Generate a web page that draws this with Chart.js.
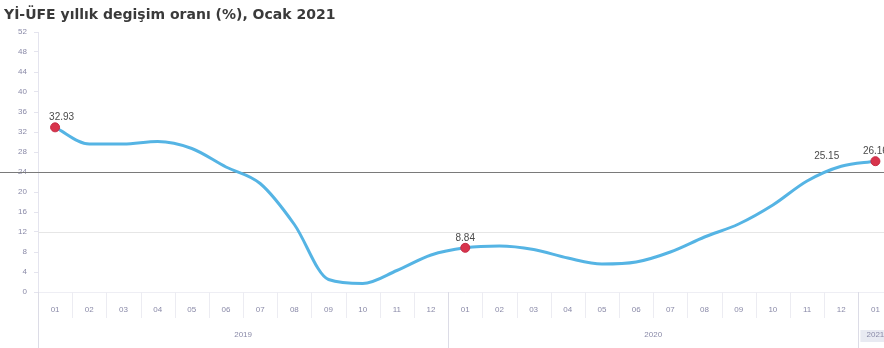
<!DOCTYPE html>
<html>
<head>
<meta charset="utf-8">
<script src="https://cdn.jsdelivr.net/npm/chart.js@4.4.1/dist/chart.umd.min.js"></script>
<style>
  body { margin: 0; background: #fff; overflow: hidden; }
  #wrap { width: 898px; height: 348px; }
</style>
</head>
<body>
<div id="wrap"><canvas id="ufeChart" width="898" height="348"></canvas></div>
<script>
const titleText = "Yİ-ÜFE yıllık degişim oranı (%), Ocak 2021";
const months = ["01","02","03","04","05","06","07","08","09","10","11","12",
                "01","02","03","04","05","06","07","08","09","10","11","12","01"];
const years = ["2019", "2020", "2021"];
const yearStart = [0, 12, 24];
const yearLen = [12, 12, 1];
const ufeValues = [32.93, 29.6, 29.6, 30.1, 28.7, 25.0, 21.7, 13.5, 2.5, 1.7, 4.3, 7.4,
                   8.84, 9.2, 8.5, 6.8, 5.6, 6.0, 8.0, 11.0, 13.6, 17.4, 22.2, 25.15, 26.16];
// which points carry a value label, and which side of the point it sits on
const labelled = [0, 12, 23, 24];
const labelAlign = ["left", "center", "right", "center"];
const redDots = [0, 12, 24];
const yTicks = [0, 4, 8, 12, 16, 20, 24, 28, 32, 36, 40, 44, 48, 52];

const FONT = "'Liberation Sans', Arial, sans-serif";
const tickColor = "#8a8aa8";

// reference lines, value labels, year row and title
const extras = {
  id: "extras",
  beforeDatasetsDraw(chart) {
    const { ctx, chartArea, scales } = chart;
    ctx.save();
    let y12 = Math.round(scales.y.getPixelForValue(12)) + 0.5;
    ctx.strokeStyle = "#e6e6e6";
    ctx.lineWidth = 1;
    ctx.beginPath();
    ctx.moveTo(chartArea.left, y12);
    ctx.lineTo(chartArea.right, y12);
    ctx.stroke();

    let y24 = Math.round(scales.y.getPixelForValue(24)) + 0.5;
    ctx.strokeStyle = "#7a7a7a";
    ctx.beginPath();
    ctx.moveTo(0, y24);
    ctx.lineTo(chart.width, y24);
    ctx.stroke();
    ctx.restore();
  },
  afterDatasetsDraw(chart) {
    const { ctx } = chart;
    const meta = chart.getDatasetMeta(0);
    ctx.save();
    ctx.font = "10px " + FONT;
    ctx.fillStyle = "#4a4a4a";
    ctx.textBaseline = "bottom";
    labelled.forEach((i, k) => {
      const p = meta.data[i];
      const al = labelAlign[k];
      ctx.textAlign = al;
      const dx = al === "left" ? -6 : al === "right" ? -2 : 0;
      ctx.fillText(ufeValues[i].toFixed(2), p.x + dx, p.y - 5);
    });
    ctx.restore();
  },
  afterDraw(chart) {
    const { ctx, chartArea, scales } = chart;
    const x = scales.x;
    const step = (chartArea.right - chartArea.left) / months.length;
    const bottom = chartArea.bottom;
    ctx.save();
    ctx.lineWidth = 1;
    for (let i = 0; i <= months.length; i++) {
      const px = Math.round(chartArea.left + i * step) + 0.5;
      const isYear = yearStart.includes(i);
      ctx.strokeStyle = isYear ? "#dcdce6" : "#ececf2";
      ctx.beginPath();
      ctx.moveTo(px, bottom);
      ctx.lineTo(px, isYear ? chart.height : bottom + 26);
      ctx.stroke();
    }

    ctx.font = "8px " + FONT;
    ctx.textAlign = "center";
    ctx.textBaseline = "middle";
    years.forEach((yr, k) => {
      const a = x.getPixelForValue(yearStart[k]);
      const b = x.getPixelForValue(yearStart[k] + yearLen[k] - 1);
      const cx = (a + b) / 2;
      if (yearLen[k] === 1) {
        ctx.fillStyle = "#e8eaf2";
        ctx.fillRect(cx - 15, 330, 30, 12);
      }
      ctx.fillStyle = tickColor;
      ctx.fillText(yr, cx, 335);
    });

    ctx.font = "bold 14px 'DejaVu Sans', sans-serif";
    ctx.fillStyle = "#3a3a3a";
    ctx.textAlign = "left";
    ctx.textBaseline = "alphabetic";
    ctx.fillText(titleText, 4, 19);
    ctx.restore();
  }
};

new Chart(document.getElementById("ufeChart"), {
  type: "line",
  data: {
    labels: months,
    datasets: [{
      data: ufeValues,
      borderColor: "#55b4e4",
      borderWidth: 3,
      cubicInterpolationMode: "monotone",
      pointRadius: ctx => redDots.includes(ctx.dataIndex) ? 4.5 : 0,
      pointBackgroundColor: "#d8344c",
      pointBorderColor: "#c52a44",
      pointBorderWidth: 1
    }]
  },
  options: {
    responsive: false,
    animation: false,
    devicePixelRatio: 1,
    layout: { padding: { top: 32, left: 0, right: 0, bottom: 0 } },
    plugins: { legend: { display: false }, tooltip: { enabled: false } },
    scales: {
      x: {
        type: "category",
        offset: true,
        grid: { display: false, offset: true },
        border: { display: true, color: "#eeeef4" },
        ticks: {
          autoSkip: false, maxRotation: 0, padding: 5,
          color: tickColor, font: { size: 8, family: FONT }
        },
        afterFit(s) { s.height = 56; }
      },
      y: {
        min: 0,
        max: 52,
        afterBuildTicks(s) { s.ticks = yTicks.map(v => ({ value: v })); },
        grid: { drawOnChartArea: false, tickLength: 4, tickColor: "#e4e4ee" },
        border: { color: "#e4e4ee" },
        ticks: { padding: 7, color: tickColor, font: { size: 8, family: FONT } },
        afterFit(s) { s.width = 38; }
      }
    }
  },
  plugins: [extras]
});
</script>
</body>
</html>
